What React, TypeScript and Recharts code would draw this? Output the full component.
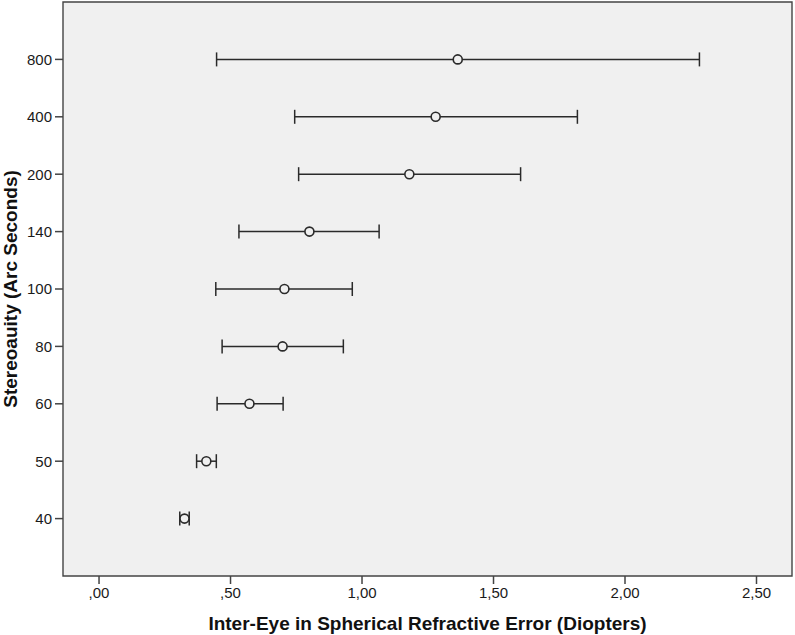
import {
  ErrorBar,
  ReferenceArea,
  Scatter,
  ScatterChart,
  XAxis,
  YAxis,
} from 'recharts'

// stereoacuity levels (arc seconds), bottom to top
const stereoLevels = ['40', '50', '60', '80', '100', '140', '200', '400', '800']
// inter-eye spherical refractive error (D): mean and interval ends
const meanDiff = [0.325, 0.408, 0.572, 0.698, 0.705, 0.8, 1.18, 1.28, 1.364]
const lowerCI = [0.307, 0.371, 0.449, 0.468, 0.444, 0.532, 0.759, 0.744, 0.447]
const upperCI = [0.343, 0.446, 0.7, 0.929, 0.963, 1.065, 1.603, 1.819, 2.283]
const xTicks = [0, 0.5, 1, 1.5, 2, 2.5]

const X_MIN = -0.137
const X_MAX = 2.635

const data = stereoLevels.map((label, i) => ({
  label,
  pos: i + 1,
  mean: meanDiff[i],
  err: [meanDiff[i] - lowerCI[i], upperCI[i] - meanDiff[i]],
}))

const FONT = '"Liberation Sans", Arial, sans-serif'
const INK = '#2a2a2a'
const BG = '#f0f0f0'

const fmtX = (v: number) => v.toFixed(2).replace('.', ',').replace(/^0/, '')

const Ring = (p: any) => (
  <circle cx={p.cx} cy={p.cy} r={4.5} fill={BG} stroke={INK} strokeWidth={1.6} />
)

export default function App() {
  return (
    <div style={{ position: 'absolute', left: 0, top: 0, background: '#fff' }}>
      <ScatterChart
        width={795}
        height={635}
        margin={{ top: 2, right: 3, bottom: 0, left: 0 }}
      >
        <ReferenceArea
          x1={X_MIN}
          x2={X_MAX}
          y1={0}
          y2={10}
          fill={BG}
          fillOpacity={1}
          stroke="#444"
          strokeWidth={1.4}
          ifOverflow="visible"
        />
        <XAxis
          type="number"
          dataKey="mean"
          domain={[X_MIN, X_MAX]}
          ticks={xTicks}
          tickFormatter={fmtX}
          allowDataOverflow
          height={59}
          axisLine={false}
          tickLine={{ stroke: '#444', strokeWidth: 1.5 }}
          tickSize={8}
          tickMargin={3}
          tick={{ fill: '#1a1a1a', fontSize: 15, fontFamily: FONT }}
          label={{
            content: (props: any) => {
              const vb = props.viewBox
              return (
                <text
                  x={vb.x + vb.width / 2}
                  y={630}
                  textAnchor="middle"
                  fontFamily={FONT}
                  fontWeight="bold"
                  fontSize={19}
                  fill="#111"
                >
                  Inter-Eye in Spherical Refractive Error (Diopters)
                </text>
              )
            },
          }}
        />
        <YAxis
          type="number"
          dataKey="pos"
          domain={[0, 10]}
          ticks={[1, 2, 3, 4, 5, 6, 7, 8, 9]}
          tickFormatter={(v: number) => stereoLevels[v - 1]}
          width={63}
          axisLine={false}
          tickLine={{ stroke: '#444', strokeWidth: 1.5 }}
          tickSize={8}
          tickMargin={3}
          tick={{ fill: '#1a1a1a', fontSize: 15, fontFamily: FONT }}
          label={{
            content: (props: any) => {
              const vb = props.viewBox
              const cy = vb.y + vb.height / 2
              return (
                <text
                  x={17}
                  y={cy}
                  transform={`rotate(-90, 17, ${cy})`}
                  textAnchor="middle"
                  fontFamily={FONT}
                  fontWeight="bold"
                  fontSize={19}
                  fill="#111"
                >
                  Stereoauity (Arc Seconds)
                </text>
              )
            },
          }}
        />
        <Scatter data={data} shape={Ring} isAnimationActive={false}>
          <ErrorBar
            dataKey="err"
            direction="x"
            width={7}
            stroke={INK}
            strokeWidth={1.5}
            isAnimationActive={false}
          />
        </Scatter>
      </ScatterChart>
    </div>
  )
}
